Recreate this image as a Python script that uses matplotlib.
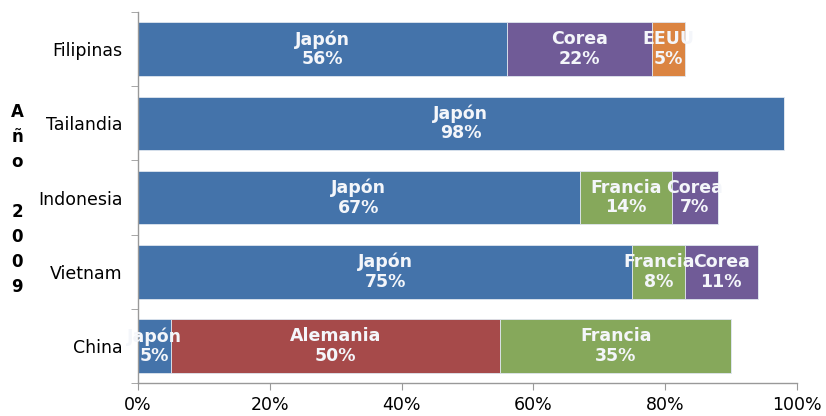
import matplotlib.pyplot as plt
import numpy as np

COUNTRIES = ['Filipinas', 'Tailandia', 'Indonesia', 'Vietnam', 'China']
DONORS = ['Japón', 'Alemania', 'Francia', 'Corea', 'EEUU']
JAPON = [56, 98, 67, 75, 5]
ALEMANIA = [0, 0, 0, 0, 50]
FRANCIA = [0, 0, 14, 8, 35]
COREA = [22, 0, 7, 11, 0]
EEUU = [5, 0, 0, 0, 0]
XTICKS = [0, 20, 40, 60, 80, 100]

COLORS = ['#4473AA', '#A64A4A', '#86A85B', '#705B97', '#DB8441']


def main():
    plt.rcParams['font.family'] = 'DejaVu Sans'
    fig = plt.figure(figsize=(8.26, 4.16), dpi=100)
    ax = fig.add_axes([0.167, 0.079, 0.798, 0.892])

    shares = [JAPON, ALEMANIA, FRANCIA, COREA, EEUU]
    y = np.arange(len(COUNTRIES))
    left = np.zeros(len(COUNTRIES))

    for donor, vals, color in zip(DONORS, shares, COLORS):
        vals = np.array(vals, dtype=float)
        ax.barh(y, vals, left=left, height=0.72, color=color,
                edgecolor='#dfe6ef', linewidth=0.6, zorder=2)
        for yi, (l, v) in enumerate(zip(left, vals)):
            if v > 0:
                ax.text(l + v / 2, yi, f'{donor}\n{v:.0f}%', ha='center',
                        va='center', color='#f4f6fa', fontsize=12.5,
                        fontweight='bold', linespacing=1.1, zorder=3)
        left += vals

    ax.set_xlim(0, 100)
    ax.set_ylim(len(COUNTRIES) - 0.5, -0.5)
    ax.set_xticks(XTICKS)
    ax.set_xticklabels([f'{t}%' for t in XTICKS], fontsize=12.5)
    ax.set_yticks(y)
    ax.set_yticklabels(COUNTRIES, fontsize=12.5)
    ax.set_yticks(np.arange(len(COUNTRIES) + 1) - 0.5, minor=True)

    ax.tick_params(axis='y', which='major', length=0, pad=11)
    ax.tick_params(axis='y', which='minor', length=5, color='#999999')
    ax.tick_params(axis='x', length=5, color='#999999', pad=4)

    for side in ('top', 'right'):
        ax.spines[side].set_visible(False)
    for side in ('left', 'bottom'):
        ax.spines[side].set_color('#999999')
        ax.spines[side].set_linewidth(1.0)

    fig.text(0.021, 0.52, 'A\nñ\no\n\n2\n0\n0\n9', ha='center', va='center',
             fontsize=12, fontweight='bold', linespacing=1.5)

    fig.savefig('out.png', dpi=100)


if __name__ == '__main__':
    main()
